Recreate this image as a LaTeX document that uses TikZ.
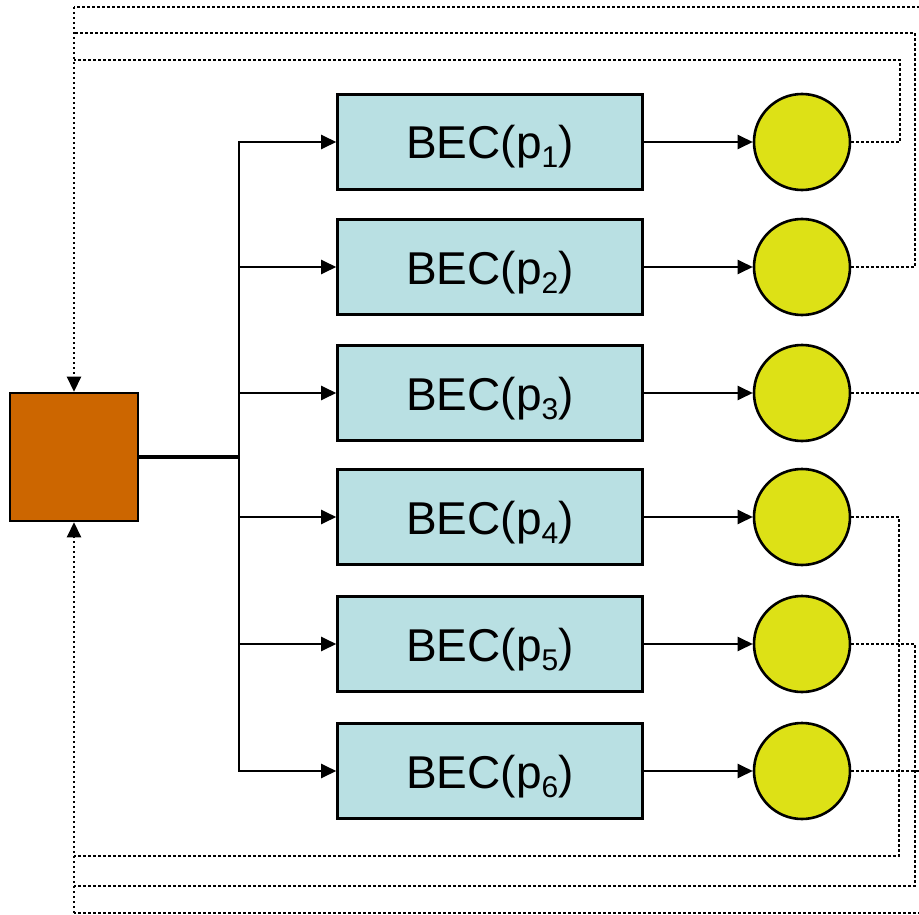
\documentclass[tikz,border=0pt]{standalone}
\usepackage{fontspec}
\setmainfont{Liberation Sans}
\usetikzlibrary{arrows.meta}
\definecolor{srcor}{HTML}{CC6600}
\definecolor{becblue}{HTML}{B9E0E3}
\definecolor{dotyel}{HTML}{DDE116}
\newcommand{\becsub}[1]{\raisebox{-9pt}{\fontsize{30}{30}\selectfont #1}}
\begin{document}
\begin{tikzpicture}[x=1pt,y=-1pt,
  becbox/.style={draw=black,line width=2.6pt,fill=becblue,minimum width=305pt,minimum height=95pt,inner sep=0pt,text height=34pt,text depth=0pt,font=\fontsize{46}{50}\selectfont},
  sinknode/.style={circle,draw=black,line width=2.6pt,fill=dotyel,minimum size=96pt,inner sep=0pt},
  srcbox/.style={draw=black,line width=2.6pt,fill=srcor,minimum size=128pt,inner sep=0pt},
  tip/.style={-{Triangle[length=15pt,width=14pt]}},
  arr/.style={line width=2.4pt,tip},
  fbl/.style={line width=2.6pt,dash pattern=on 2.4pt off 2.6pt},
  fb/.style={fbl,tip}]
\useasboundingbox (0,0) rectangle (919,915);
\node[srcbox] (s) at (74,457) {};
\foreach \i/\y in {1/142,2/267,3/393,4/517,5/644,6/771}{
  \node[becbox] (b\i) at (490,\y) {BEC(p\becsub{\i})};
  \node[sinknode] (c\i) at (802,\y) {};
}
\coordinate (t) at (239,457);
\draw[line width=4pt] (s.east) -- (t);
\foreach \i in {1,...,6}{
  \draw[arr] (t) |- (b\i.west);
  \draw[arr] (b\i.east) -- (c\i.west);
}
\coordinate (topc) at (74,7);
\coordinate (botc) at (74,913);
\draw[fbl] (c1.east) -| (900,60) -- (74,60);
\draw[fbl] (c2.east) -| (915,33) -- (74,33);
\draw[fbl] (c3.east) -| (930,7) -- (topc);
\draw[fb] (topc) -- (s.north);
\draw[fbl] (c4.east) -| (899,856) -- (74,856);
\draw[fbl] (c5.east) -| (915,886) -- (74,886);
\draw[fbl] (c6.east) -| (930,913) -- (botc);
\draw[fb] (botc) -- (s.south);
\end{tikzpicture}
\end{document}
